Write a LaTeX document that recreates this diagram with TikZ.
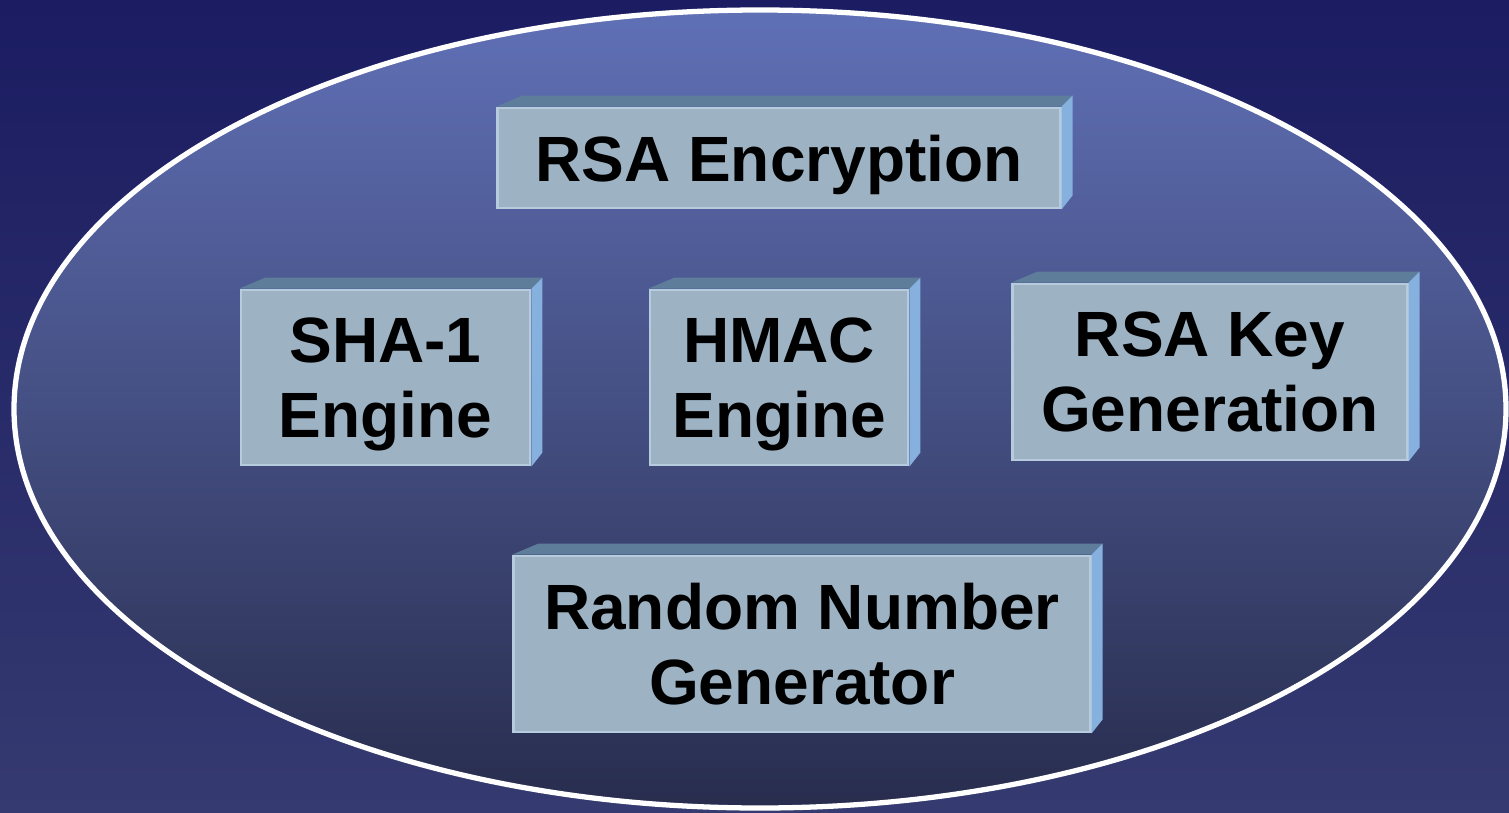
\documentclass[tikz,border=0pt]{standalone}
\usepackage{fontspec}
\setmainfont{Liberation Sans}
\usetikzlibrary{calc}

\definecolor{bgtop}{RGB}{27,28,98}
\definecolor{bgbottom}{RGB}{53,58,112}
\definecolor{ovaltop}{RGB}{96,112,182}
\definecolor{ovalbottom}{RGB}{40,45,78}
\definecolor{frontface}{RGB}{157,179,196}
\definecolor{frontedge}{RGB}{182,204,222}
\definecolor{topface}{RGB}{94,125,155}
\definecolor{sideface}{RGB}{134,176,222}

\begin{document}
\begin{tikzpicture}[x=0.01cm, y=-0.01cm,
    block/.style = {fill=frontface, draw=frontedge, line width=0.8pt, inner sep=0pt,
                    text depth=0pt, align=center, text=black,
                    font=\fontsize{18.2}{21.4}\selectfont\bfseries},
    topside/.style = {fill=topface},
    rightside/.style = {fill=sideface}]
  % background and oval
  \fill[top color=bgtop, bottom color=bgbottom] (0,0) rectangle (1509,812);
  \useasboundingbox (0,0) rectangle (1509,812);
  \shade[top color=ovaltop, bottom color=ovalbottom] (760,409) ellipse [x radius=746, y radius=399];
  \draw[white, line width=1.5pt] (760,409) ellipse [x radius=746, y radius=399];

  % the five blocks
  \node[block, minimum width=5.62cm, minimum height=1.00cm] (rsaenc) at (779,158) {RSA Encryption};
  \node[block, minimum width=2.89cm, minimum height=1.75cm] (sha) at (385.5,377.5) {SHA-1\\Engine};
  \node[block, minimum width=2.58cm, minimum height=1.75cm] (hmac) at (779,377.5) {HMAC\\Engine};
  \node[block, minimum width=3.94cm, minimum height=1.76cm] (rsakey) at (1210,372) {RSA Key\\Generation};
  \node[block, minimum width=5.76cm, minimum height=1.76cm] (rng) at (802,644) {Random Number\\Generator};

  % top and right faces
  \foreach \n in {rsaenc,sha,hmac,rsakey,rng} {
    \fill[topside] (\n.north west) -- (\n.north east) -- ($(\n.north east)+(11,-11)$)
      -- ($(\n.north west)+(26,-11)$) -- cycle;
    \fill[rightside] (\n.north east) -- ($(\n.north east)+(11,-11)$)
      -- ($(\n.south east)+(11,-14)$) -- (\n.south east) -- cycle;
  }
\end{tikzpicture}
\end{document}
